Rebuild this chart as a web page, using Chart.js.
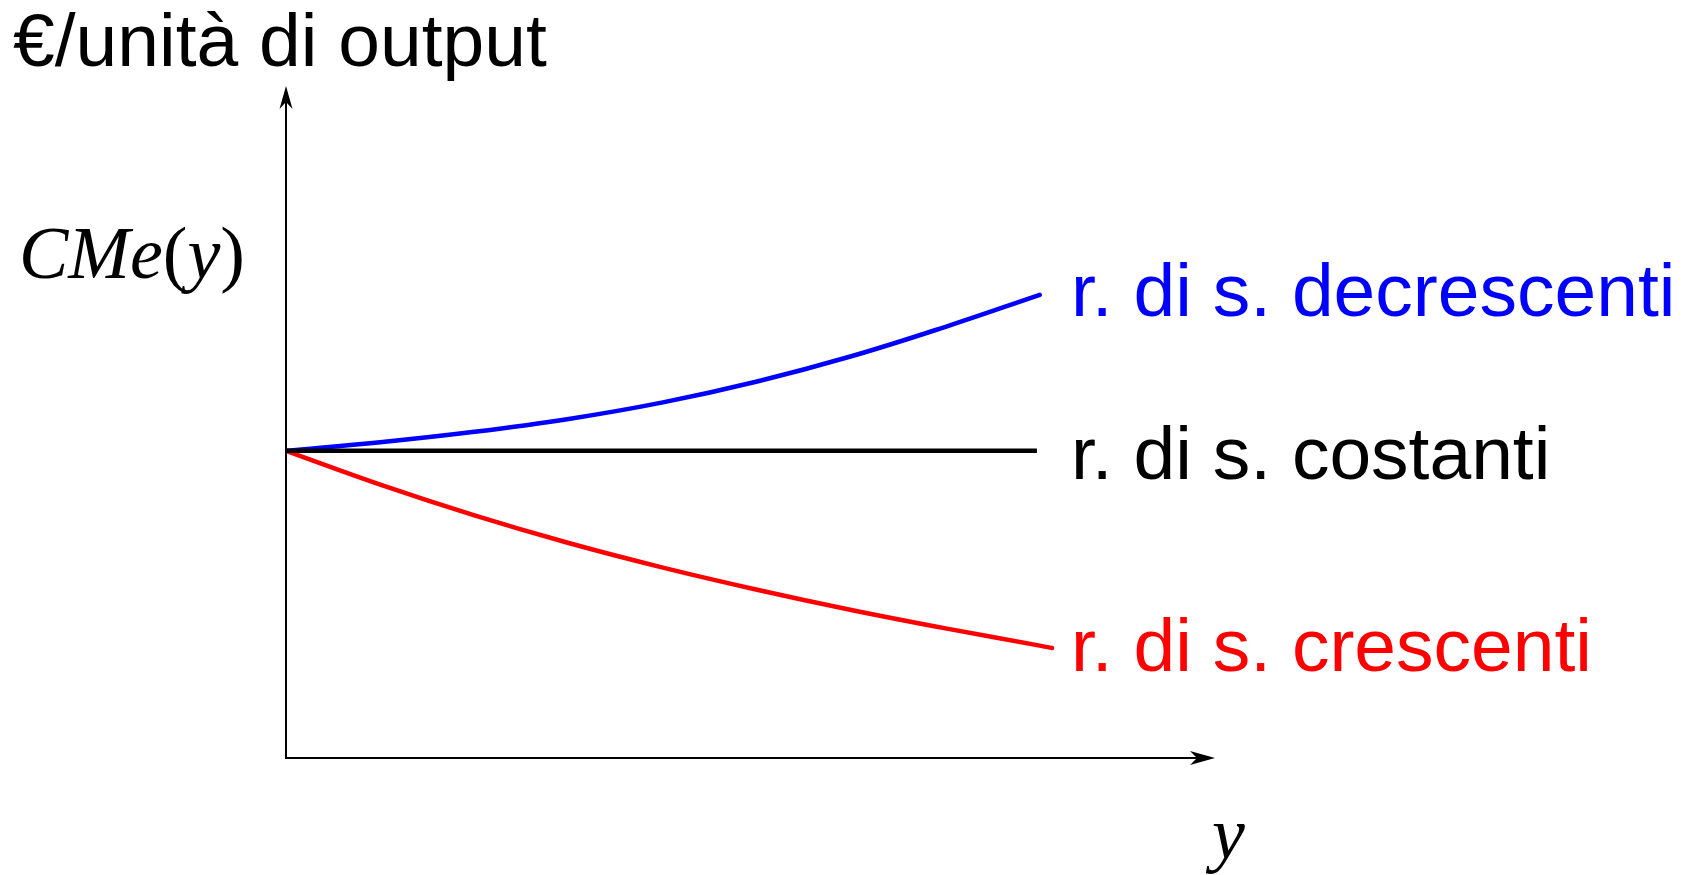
<!DOCTYPE html>
<html>
<head>
<meta charset="utf-8">
<script src="https://cdn.jsdelivr.net/npm/chart.js@4/dist/chart.umd.min.js"></script>
<style>
  html, body { margin: 0; padding: 0; background: #ffffff; }
  #wrap { position: relative; width: 1691px; height: 875px; }
</style>
</head>
<body>
<div id="wrap"><canvas id="c"></canvas></div>
<script>
// ---- data ----
const xValues      = [0, 1, 2, 3, 4, 5, 6, 7, 8];
const decreasingRS = [5.00, 5.14, 5.31, 5.52, 5.79, 6.13, 6.54, 7.02, 7.54];   // blue
const constantX    = [0, 7.97];
const constantRS   = [5.00, 5.00];                                          // black
const increasingX  = [0, 1, 2, 3, 4, 5, 6, 7, 8, 8.13];
const increasingRS = [5.00, 4.45, 3.95, 3.50, 3.10, 2.74, 2.41, 2.11, 1.83, 1.79]; // red
const seriesLabels = ["r. di s. decrescenti", "r. di s. costanti", "r. di s. crescenti"];
const yAxisTitle   = "€/unità di output";
const yCurveParts  = ["CMe", "(", "y", ")"];
const xAxisTitle   = "y";
const xMax = 9.86, yMax = 10.94;

const toPts = (xs, ys) => xs.map((x, i) => ({ x: x, y: ys[i] }));

const decorations = {
  id: 'decorations',
  beforeDatasetsDraw(chart) {
    const ctx = chart.ctx;
    const xs = chart.scales.x, ys = chart.scales.y;
    const ox = xs.getPixelForValue(0), oy = ys.getPixelForValue(0);
    const tx = xs.getPixelForValue(xMax), ty = ys.getPixelForValue(yMax);
    ctx.save();
    ctx.strokeStyle = '#000'; ctx.fillStyle = '#000'; ctx.lineWidth = 2;
    ctx.beginPath();
    ctx.moveTo(ox, ty + 10); ctx.lineTo(ox, oy); ctx.lineTo(tx - 10, oy);
    ctx.stroke();
    ctx.beginPath();
    ctx.moveTo(ox, ty); ctx.lineTo(ox - 6.5, ty + 23); ctx.lineTo(ox, ty + 16); ctx.lineTo(ox + 6.5, ty + 23);
    ctx.closePath(); ctx.fill();
    ctx.beginPath();
    ctx.moveTo(tx, oy); ctx.lineTo(tx - 25, oy - 7); ctx.lineTo(tx - 18, oy); ctx.lineTo(tx - 25, oy + 7);
    ctx.closePath(); ctx.fill();
    ctx.restore();
  },
  afterDraw(chart) {
    const ctx = chart.ctx;
    ctx.save();
    ctx.textAlign = 'left'; ctx.textBaseline = 'alphabetic';
    ctx.fillStyle = '#000';
    const sans = '75px "Liberation Sans", Arial, sans-serif';
    const ital = 'italic 74px "Liberation Serif", "Times New Roman", serif';
    const rom  = '74px "Liberation Serif", "Times New Roman", serif';
    ctx.font = sans;
    ctx.fillText(yAxisTitle, 13, 66);
    let x = 19;
    const fonts = [ital, rom, ital, rom];
    yCurveParts.forEach((p, i) => {
      ctx.font = fonts[i];
      ctx.fillText(p, x, 278);
      x += ctx.measureText(p).width;
    });
    ctx.font = ital;
    ctx.fillText(xAxisTitle, 1212, 858);
    ctx.font = sans;
    ctx.fillStyle = '#0000ff'; ctx.fillText(seriesLabels[0], 1071, 316);
    ctx.fillStyle = '#000000'; ctx.fillText(seriesLabels[1], 1071, 479);
    ctx.fillStyle = '#ff0000'; ctx.fillText(seriesLabels[2], 1071, 671);
    ctx.restore();
  }
};

new Chart(document.getElementById('c'), {
  type: 'scatter',
  data: {
    datasets: [
      { label: seriesLabels[1], data: toPts(constantX, constantRS), showLine: true,
        borderColor: '#000000', borderWidth: 4.5, pointRadius: 0, borderCapStyle: 'butt' },
      { label: seriesLabels[0], data: toPts(xValues, decreasingRS), showLine: true,
        borderColor: '#0000ff', borderWidth: 4.5, pointRadius: 0, borderCapStyle: 'round',
        tension: 0.4 },
      { label: seriesLabels[2], data: toPts(increasingX, increasingRS), showLine: true,
        borderColor: '#ff0000', borderWidth: 4.5, pointRadius: 0, borderCapStyle: 'round',
        tension: 0.4 }
    ]
  },
  options: {
    responsive: true, maintainAspectRatio: false, animation: false,
    layout: { padding: { left: 286, right: 476, top: 86, bottom: 117 } },
    plugins: { legend: { display: false }, tooltip: { enabled: false } },
    scales: {
      x: { type: 'linear', min: 0, max: xMax, display: false },
      y: { type: 'linear', min: 0, max: yMax, display: false }
    }
  },
  plugins: [decorations]
});
</script>
</body>
</html>
